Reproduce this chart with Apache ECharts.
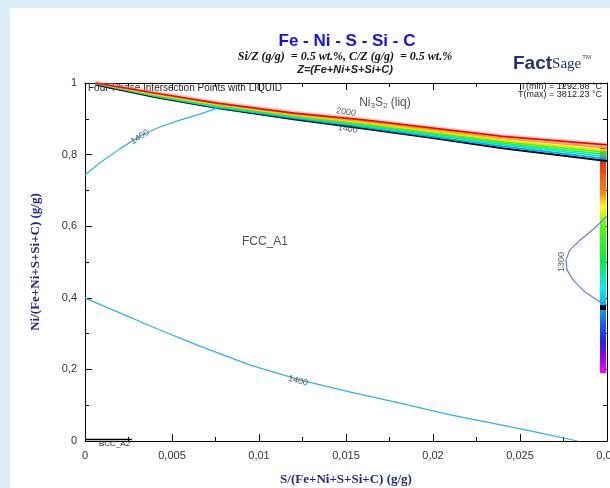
<!DOCTYPE html>
<html>
<head>
<meta charset="utf-8">
<script src="https://cdn.jsdelivr.net/npm/echarts@6/dist/echarts.min.js"></script>
<style>
html, body { margin: 0; padding: 0; background: #dcedf9; }
#chart { width: 610px; height: 488px; }
</style>
</head>
<body>
<div id="chart"></div>
<script>
// liquidus isotherms bordering the Ni3S2 (liq) field, all read at the same x
const bandX = [0.0006, 0.004, 0.0076, 0.012, 0.016, 0.02, 0.024, 0.03]
const bandLimitY = [0.996, 0.961, 0.930, 0.899, 0.873, 0.846, 0.818, 0.782]
const band1400Y = [0.998, 0.963, 0.932, 0.902, 0.877, 0.850, 0.823, 0.788]
const band1500Y = [0.999, 0.964, 0.934, 0.905, 0.880, 0.854, 0.828, 0.794]
const band1600Y = [1.0, 0.966, 0.936, 0.907, 0.883, 0.858, 0.832, 0.800]
const band1700Y = [1.0, 0.967, 0.938, 0.909, 0.886, 0.861, 0.836, 0.806]
const band1800Y = [1.0, 0.968, 0.940, 0.911, 0.889, 0.865, 0.840, 0.812]
const band1900Y = [1.0, 0.970, 0.942, 0.913, 0.893, 0.869, 0.845, 0.819]
const band2000Y = [1.0, 0.972, 0.944, 0.916, 0.897, 0.874, 0.851, 0.827]

// 1400 C isotherm, upper left branch
const iso1400aX = [0, 0.00086, 0.002, 0.00316, 0.0043, 0.0055, 0.0066, 0.0076]
const iso1400aY = [0.743, 0.777, 0.816, 0.852, 0.877, 0.897, 0.913, 0.930]

// 1400 C isotherm, lower branch
const iso1400bX = [0, 0.002, 0.0043, 0.0066, 0.0095, 0.0124, 0.0152, 0.0181, 0.021, 0.0239, 0.0262, 0.0283]
const iso1400bY = [0.399, 0.358, 0.310, 0.265, 0.212, 0.170, 0.137, 0.106, 0.073, 0.045, 0.022, 0.0]

// 1300 C isotherm nose at the right edge
const iso1300X = [0.03, 0.0293, 0.02845, 0.02787, 0.02764, 0.0277, 0.02805, 0.02874, 0.0296, 0.03]
const iso1300Y = [0.628, 0.595, 0.561, 0.534, 0.506, 0.478, 0.450, 0.416, 0.388, 0.380]

// BCC_A2 sliver along the axis
const bccX = [0, 0.0027]
const bccY = [0.004, 0.004]

// text on the diagram: [text, x, y, rotate]
const curveLabels = [
  ['2000', 0.0150, 0.919, -9],
  ['1400', 0.0151, 0.872, -9],
  ['1400', 0.00316, 0.849, 32],
  ['1400', 0.01224, 0.168, -14],
  ['1300', 0.02736, 0.500, 90]
]
const phaseLabels = [
  ['FCC_A1', 0.01034, 0.556],
  ['Ni{s|3}S{s|2} (liq)', 0.01724, 0.944]
]

const bandLines = [bandLimitY, band1400Y, band1500Y, band1600Y, band1700Y, band1800Y, band1900Y, band2000Y]
const bandColors = ['#000000', '#00a6ff', '#00dede', '#00f58a', '#4cf500', '#c8f500', '#ffa800', '#ff0000']

const pair = (xs, ys) => xs.map((x, i) => [x, ys[i]])
const comma = v => String(+v.toFixed(4)).replace('.', ',')
const sans = '"Liberation Sans", Arial, sans-serif'
const serif = '"Liberation Serif", "Times New Roman", serif'

const chart = echarts.init(document.getElementById('chart'))

const series = []
// pale pink halo above the hottest line
series.push({
  type: 'line', data: pair(bandX, band2000Y), showSymbol: false, silent: true,
  lineStyle: { color: 'rgba(255,130,130,0.45)', width: 5 }, z: 2
})
bandLines.forEach((ys, i) => {
  series.push({
    type: 'line', data: pair(bandX, ys), showSymbol: false, silent: true,
    lineStyle: { color: bandColors[i], width: i === 0 ? 2 : 1.7 }, z: 3 + i
  })
})
series.push({
  type: 'line', data: pair(iso1400aX, iso1400aY), showSymbol: false, silent: true,
  lineStyle: { color: '#28b4f0', width: 1.2 }
})
series.push({
  type: 'line', data: pair(iso1400bX, iso1400bY), showSymbol: false, silent: true,
  lineStyle: { color: '#28b4f0', width: 1.2 }
})
series.push({
  type: 'line', data: pair(iso1300X, iso1300Y), showSymbol: false, silent: true,
  lineStyle: { color: '#5a7ff0', width: 1.2 }
})
series.push({
  type: 'line', data: pair(bccX, bccY), showSymbol: false, silent: true,
  lineStyle: { color: '#000', width: 1.5 }
})
series.push({
  type: 'scatter', symbolSize: 0, silent: true, z: 20,
  data: curveLabels.map(l => ({
    value: [l[1], l[2]],
    label: { formatter: l[0], rotate: l[3] }
  })),
  label: {
    show: true, position: 'inside', color: '#333',
    fontFamily: sans, fontSize: 9, align: 'center', verticalAlign: 'middle'
  }
})
series.push({
  type: 'scatter', symbolSize: 0, silent: true, z: 20,
  data: phaseLabels.map(l => ({ value: [l[1], l[2]], label: { formatter: l[0] } })),
  label: {
    show: true, position: 'inside', color: '#222',
    fontFamily: sans, fontSize: 12,
    rich: { s: { fontFamily: sans, fontSize: 8, color: '#222', verticalAlign: 'bottom', padding: [6, 0, 0, 0] } }
  }
})

const axisLine = { onZero: false, lineStyle: { color: '#000', width: 1 } }
const axisTick = { inside: true, length: 7, lineStyle: { color: '#000' } }
const minorTick = { show: true, splitNumber: 2, length: 4, lineStyle: { color: '#000' } }
const tickLabel = { color: '#333', fontFamily: sans, fontSize: 11 }

const option = {
  animation: false,
  backgroundColor: '#dcedf9',
  title: {
    text: 'Fe - Ni - S - Si - C',
    left: 342, top: 28, textAlign: 'center',
    textStyle: { color: '#1212ee', fontFamily: sans, fontWeight: 'bold', fontSize: 17 }
  },
  grid: { left: 85, right: 3, top: 83, bottom: 47, outerBoundsMode: 'none' },
  xAxis: [
    {
      type: 'value', min: 0, max: 0.03, interval: 0.005,
      name: 'S/(Fe+Ni+S+Si+C) (g/g)', nameLocation: 'middle', nameGap: 32,
      nameTextStyle: { color: '#23238a', fontFamily: serif, fontWeight: 'bold', fontSize: 13 },
      axisLine, axisTick, minorTick,
      splitLine: { show: false },
      axisLabel: Object.assign({ formatter: comma, margin: 9, hideOverlap: false }, tickLabel)
    },
    {
      type: 'value', position: 'top', min: 0, max: 0.03, interval: 0.005,
      axisLine, axisTick, minorTick,
      splitLine: { show: false }, axisLabel: { show: false }
    }
  ],
  yAxis: [
    {
      type: 'value', min: 0, max: 1, interval: 0.2,
      name: 'Ni/(Fe+Ni+S+Si+C) (g/g)', nameLocation: 'middle', nameGap: 43,
      nameTextStyle: { color: '#23238a', fontFamily: serif, fontWeight: 'bold', fontSize: 13 },
      axisLine, axisTick, minorTick,
      splitLine: { show: false },
      axisLabel: Object.assign({ formatter: comma, margin: 8 }, tickLabel)
    },
    {
      type: 'value', position: 'right', min: 0, max: 1, interval: 0.2,
      axisLine, axisTick, minorTick,
      splitLine: { show: false }, axisLabel: { show: false }
    }
  ],
  graphic: [
    { type: 'rect', z: -10, shape: { x: 10, y: 8, width: 600, height: 480 }, style: { fill: '#fff' } },
    {
      type: 'text', z: 10,
      style: {
        x: 345, y: 57, text: 'Si/Z (g/g)  = 0.5 wt.%, C/Z (g/g)  = 0.5 wt.%',
        font: 'italic bold 12px ' + serif, fill: '#111', align: 'center', verticalAlign: 'middle'
      }
    },
    {
      type: 'text', z: 10,
      style: {
        x: 345, y: 70, text: 'Z=(Fe+Ni+S+Si+C)',
        font: 'italic bold 11px ' + sans, fill: '#222', align: 'center', verticalAlign: 'middle'
      }
    },
    {
      type: 'text', z: 10,
      style: {
        x: 513, y: 64, text: '{f|Fact}{s|Sage}{t|TM}', verticalAlign: 'middle',
        rich: {
          f: { font: 'bold 19px ' + sans, fill: '#24336f' },
          s: { font: '15px ' + serif, fill: '#24336f' },
          t: { font: '6px ' + sans, fill: '#24336f', verticalAlign: 'top', padding: [0, 0, 10, 1] }
        }
      }
    },
    {
      type: 'text', z: 1,
      style: { x: 88, y: 88, text: 'Four-Phase Intersection Points with LIQUID', font: '10px ' + sans, fill: '#222', verticalAlign: 'middle' }
    },
    {
      type: 'text', z: 30,
      style: { x: 602, y: 87, text: 'T(min) = 1292.88 °C', font: '9px ' + sans, fill: '#222', align: 'right', verticalAlign: 'middle' }
    },
    {
      type: 'text', z: 30,
      style: { x: 602, y: 95, text: 'T(max) = 3812.23 °C', font: '9px ' + sans, fill: '#222', align: 'right', verticalAlign: 'middle' }
    },
    {
      type: 'text', z: 30,
      style: { x: 99, y: 444, text: 'BCC_A2', font: '8px ' + sans, fill: '#222', verticalAlign: 'middle' }
    },
    {
      type: 'rect', z: 1,
      shape: { x: 600, y: 148, width: 6, height: 225 },
      style: {
        fill: new echarts.graphic.LinearGradient(0, 0, 0, 1, [
          { offset: 0, color: '#ff0000' },
          { offset: 0.2, color: '#ff8800' },
          { offset: 0.26, color: '#ffff00' },
          { offset: 0.36, color: '#44ff00' },
          { offset: 0.5, color: '#00ee44' },
          { offset: 0.62, color: '#00eeee' },
          { offset: 0.7, color: '#00b4ff' },
          { offset: 0.78, color: '#1e5aff' },
          { offset: 0.86, color: '#2020ee' },
          { offset: 0.93, color: '#9900ee' },
          { offset: 1, color: '#ff00ff' }
        ])
      }
    },
    { type: 'rect', z: 1, shape: { x: 600, y: 305, width: 6, height: 5 }, style: { fill: '#000' } }
  ],
  series: series
}

chart.setOption(option)
</script>
</body>
</html>
